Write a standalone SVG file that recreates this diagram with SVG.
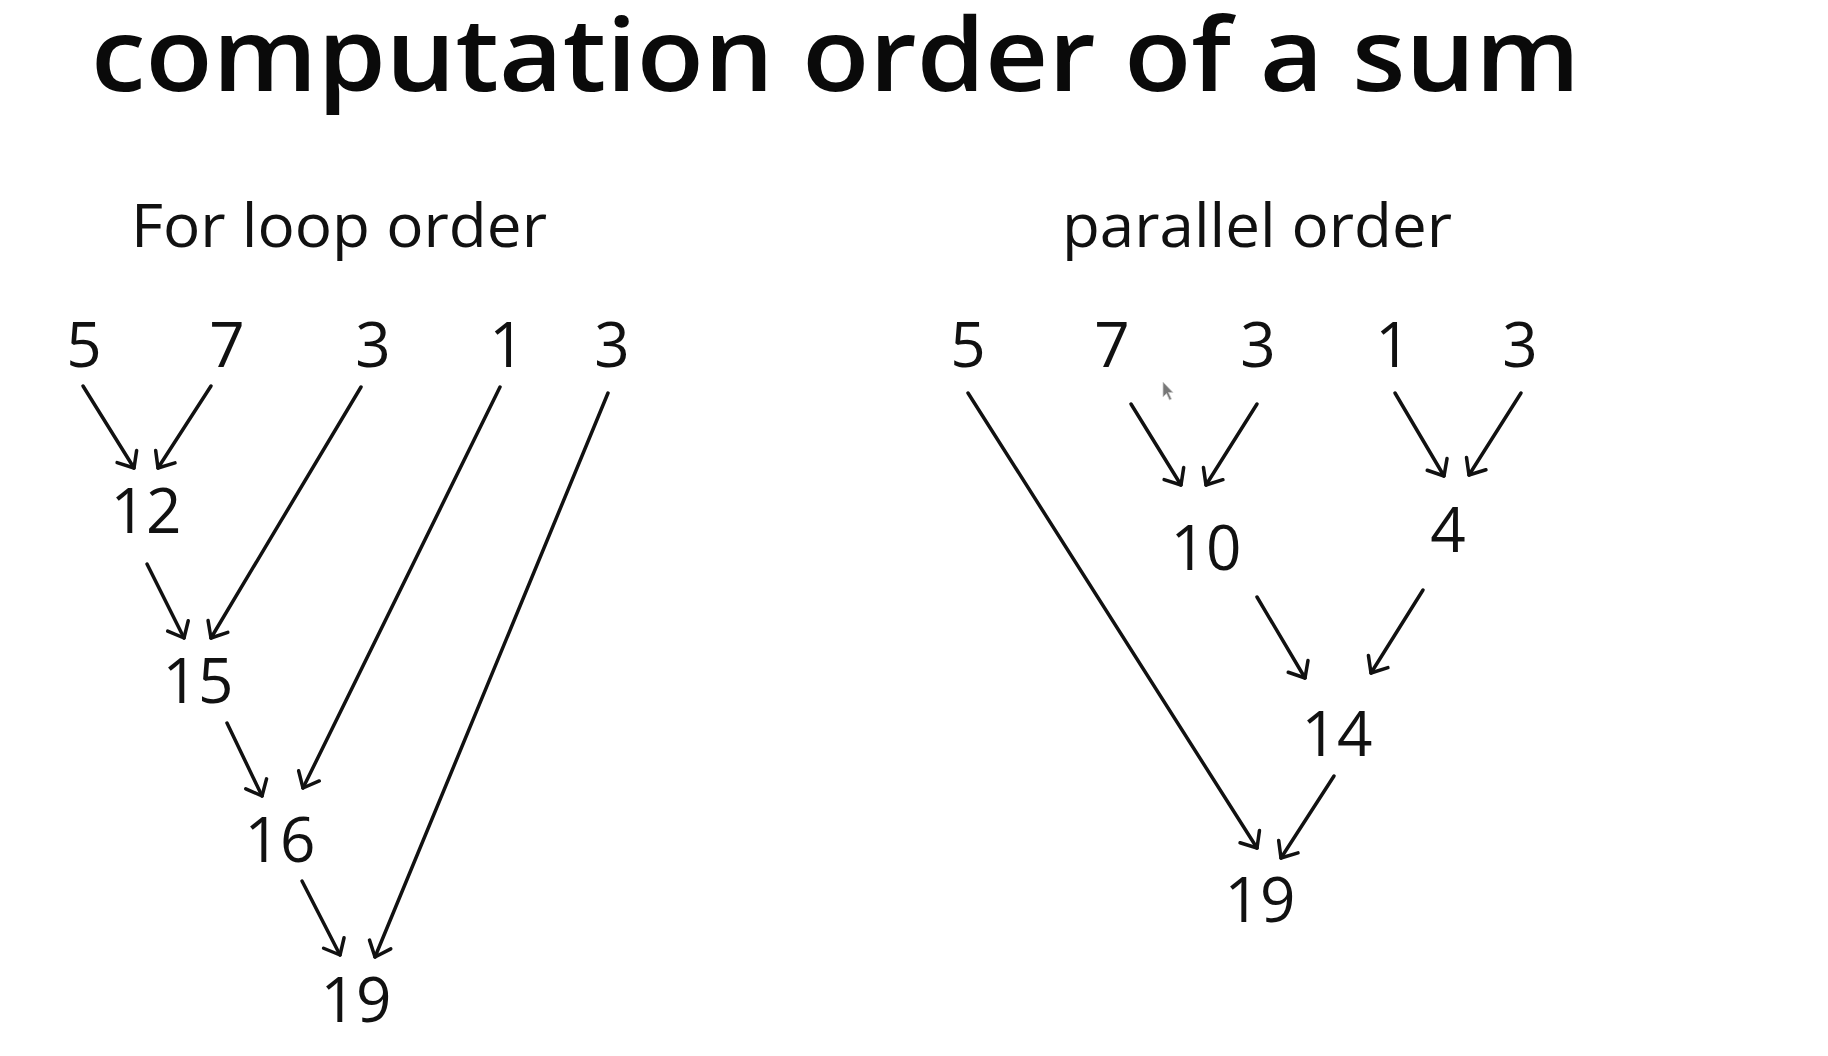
<svg xmlns="http://www.w3.org/2000/svg" width="1828" height="1056" viewBox="0 0 1828 1056">
  <style>
    .title { font-family: "Open Sans", "Noto Sans", sans-serif; font-weight: 600; font-size: 102px; fill: #0a0a0a; }
    .sub { font-family: "Open Sans", "Noto Sans", sans-serif; font-size: 61px; fill: #111; }
    .num { font-family: "Open Sans", "Noto Sans", sans-serif; font-size: 62px; fill: #111; text-anchor: middle; }
    .edge { stroke: #111; stroke-width: 3.5; fill: none; stroke-linecap: round; marker-end: url(#arr); }
  </style>
  <defs>
    <marker id="arr" markerUnits="userSpaceOnUse" markerWidth="24" markerHeight="24" viewBox="0 0 24 24" refX="20" refY="12" orient="auto" overflow="visible">
      <path d="M6.5,0.5 L20,12 L6.5,23.5" fill="none" stroke="#111" stroke-width="3.5" stroke-linecap="round" stroke-linejoin="round"/>
    </marker>
  </defs>
  <rect width="1828" height="1056" fill="#ffffff"/>

  <text class="title" x="91" y="91" textLength="1489" lengthAdjust="spacingAndGlyphs">computation order of a sum</text>
  <text class="sub" x="131" y="247" textLength="416" lengthAdjust="spacingAndGlyphs">For loop order</text>
  <text class="sub" x="1062" y="247" textLength="390" lengthAdjust="spacingAndGlyphs">parallel order</text>

  <g id="connectors">
    <!-- for loop order -->
    <line class="edge" x1="83" y1="386" x2="134" y2="468"/>
    <line class="edge" x1="211" y1="386" x2="158" y2="468"/>
    <line class="edge" x1="361" y1="387" x2="211" y2="638"/>
    <line class="edge" x1="147" y1="564" x2="184" y2="638"/>
    <line class="edge" x1="500" y1="387" x2="303" y2="788"/>
    <line class="edge" x1="227" y1="723" x2="262" y2="796"/>
    <line class="edge" x1="608" y1="393" x2="375" y2="957"/>
    <line class="edge" x1="302" y1="881" x2="340" y2="955"/>
    <!-- parallel order -->
    <line class="edge" x1="968" y1="393" x2="1257" y2="848"/>
    <line class="edge" x1="1131" y1="404" x2="1181" y2="485"/>
    <line class="edge" x1="1257" y1="404" x2="1206" y2="485"/>
    <line class="edge" x1="1395" y1="393" x2="1444" y2="476"/>
    <line class="edge" x1="1521" y1="393" x2="1469" y2="475"/>
    <line class="edge" x1="1257" y1="597" x2="1305" y2="678"/>
    <line class="edge" x1="1423" y1="590" x2="1371" y2="673"/>
    <line class="edge" x1="1334" y1="776" x2="1281" y2="858"/>
  </g>

  <!-- for loop order nodes -->
  <g id="L-a5"><text class="num" x="84" y="367">5</text></g>
  <g id="L-b7"><text class="num" x="227" y="367">7</text></g>
  <g id="L-c3"><text class="num" x="373" y="367">3</text></g>
  <g id="L-d1"><text class="num" x="507" y="367">1</text></g>
  <g id="L-e3"><text class="num" x="612" y="367">3</text></g>
  <g id="L-s12"><text class="num" x="146" y="533">12</text></g>
  <g id="L-s15"><text class="num" x="198" y="703">15</text></g>
  <g id="L-s16"><text class="num" x="280" y="862">16</text></g>
  <g id="L-s19"><text class="num" x="356" y="1022">19</text></g>

  <!-- parallel order nodes -->
  <g id="P-a5"><text class="num" x="968" y="367">5</text></g>
  <g id="P-b7"><text class="num" x="1112" y="367">7</text></g>
  <g id="P-c3"><text class="num" x="1258" y="367">3</text></g>
  <g id="P-d1"><text class="num" x="1393" y="367">1</text></g>
  <g id="P-e3"><text class="num" x="1520" y="367">3</text></g>
  <g id="P-s10"><text class="num" x="1206" y="570">10</text></g>
  <g id="P-s4"><text class="num" x="1448" y="552">4</text></g>
  <g id="P-s14"><text class="num" x="1337" y="756">14</text></g>
  <g id="P-s19"><text class="num" x="1260" y="922">19</text></g>

  <!-- mouse cursor -->
  <path d="M1163,382 L1163,397 L1166.5,393.5 L1169.5,400 L1171.5,399 L1168.5,392.5 L1173,392.5 Z" fill="#777" stroke="#ccc" stroke-width="0.8"/>
</svg>
